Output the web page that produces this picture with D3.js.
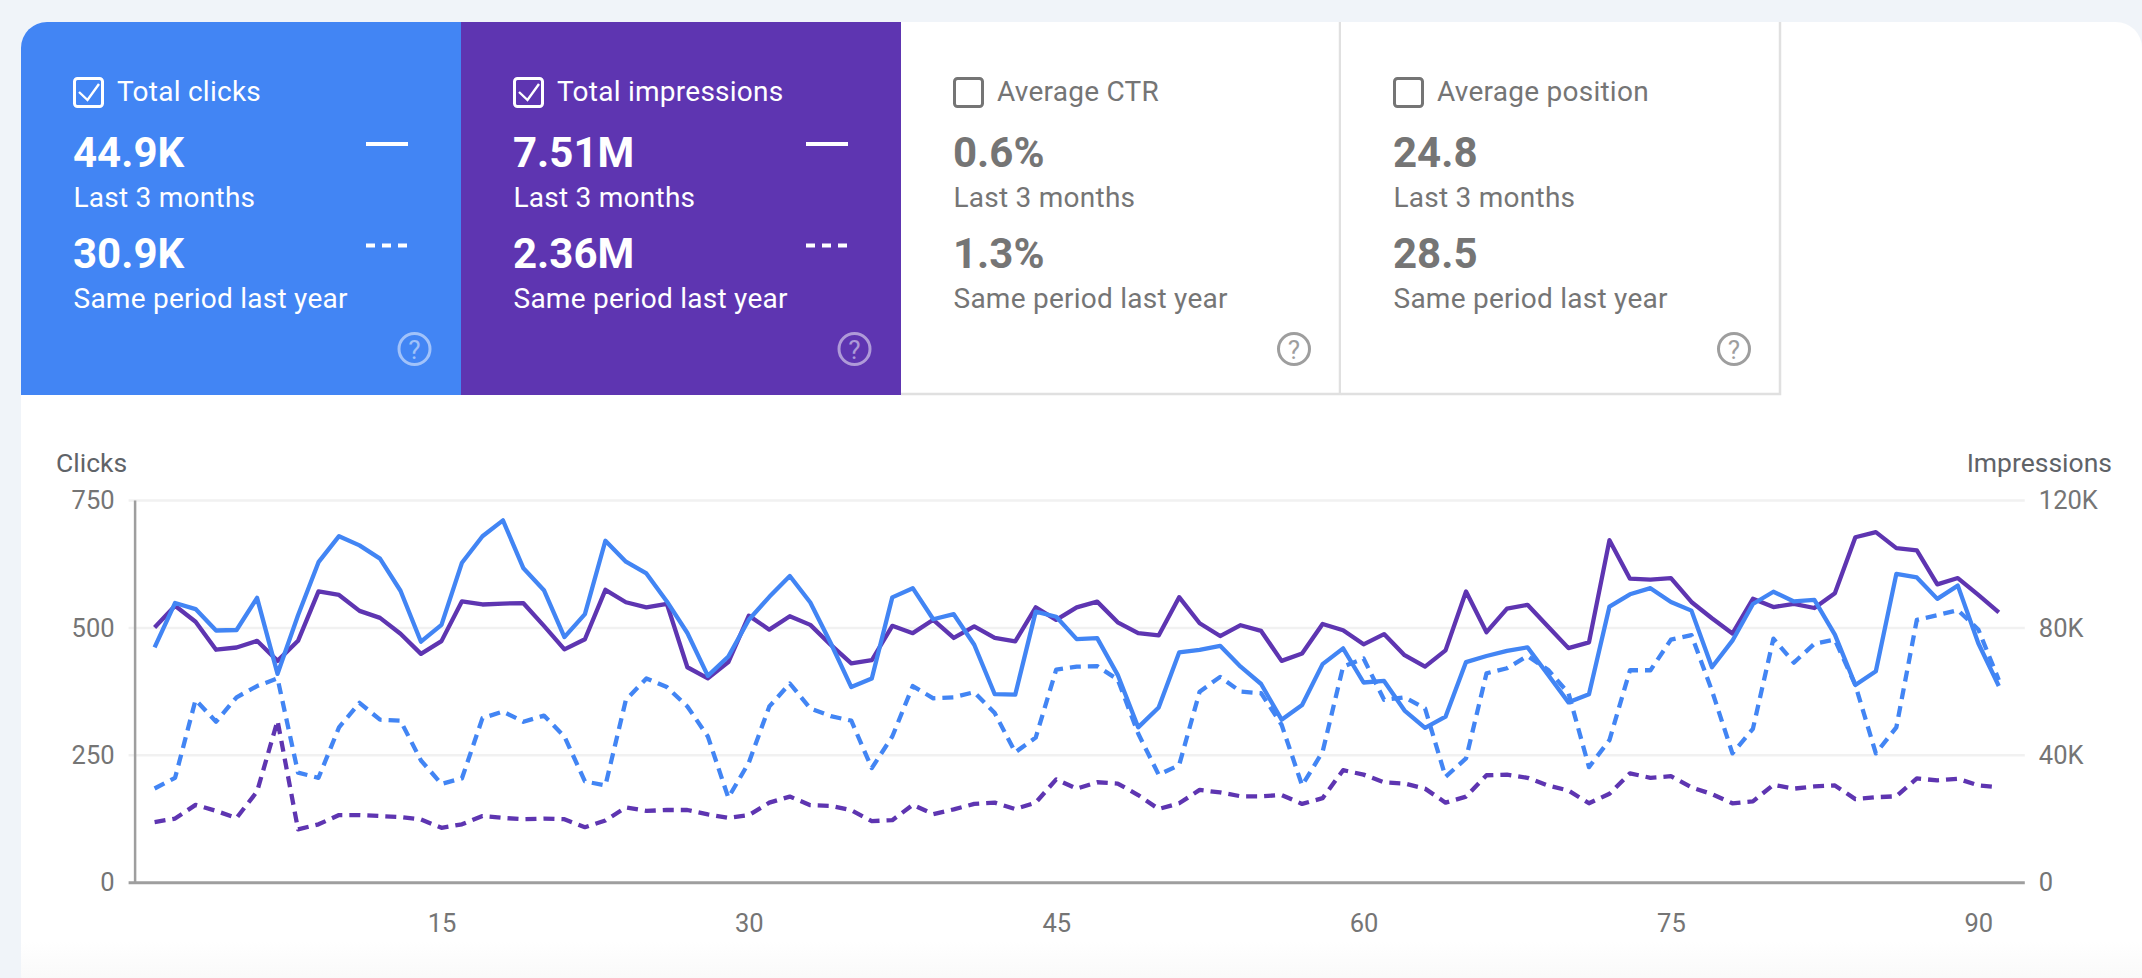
<!DOCTYPE html>
<html lang="en">
<head>
<meta charset="UTF-8">
<title>Search performance</title>
<script src="https://d3js.org/d3.v7.min.js"></script>
<style>
  body { margin: 0; background: #f0f4f9; }
  svg { display: block; }
  text { font-family: Roboto, sans-serif; }
  .tick text { font-family: Roboto, sans-serif; }
</style>
</head>
<body>
<script>
// scorecards
const cardTitles = ['Total clicks', 'Total impressions', 'Average CTR', 'Average position'];
const cardCurrent = ['44.9K', '7.51M', '0.6%', '24.8'];
const cardPrevious = ['30.9K', '2.36M', '1.3%', '28.5'];
const cardFills = ['#4285f4', '#5e35b1', '#ffffff', '#ffffff'];
const cardChecked = [true, true, false, false];

// chart, day 1 to 91
const clicksNow = [461,548,536,494,495,558,409,524,628,679,661,635,572,472,505,627,679,710,616,573,
  481,526,670,629,606,551,489,405,443,515,560,601,549,469,383,400,559,577,516,526,466,369,368,531,521,477,479,
  407,304,343,451,456,464,423,389,319,348,428,459,392,395,337,303,325,432,444,454,461,407,353,369,541,565,
  577,550,533,422,474,546,570,551,554,486,387,414,605,598,556,582,469,385];
const clicksLast = [184,205,358,315,363,385,400,215,205,304,352,319,317,239,193,204,322,335,315,327,
  286,198,190,358,400,383,345,286,166,235,345,390,341,326,317,224,286,385,361,363,373,332,255,284,417,423,424,
  398,292,211,230,374,403,374,371,309,190,256,423,439,358,363,341,207,243,410,420,444,417,371,226,279,416,
  416,476,485,376,253,301,478,431,468,476,387,253,304,515,524,534,496,397];
// impressions in thousands
const imprNow = [80,86.8,81.8,73,73.7,75.8,69.5,75.8,91.3,90.2,85.2,83,78,71.7,75.7,88.2,87.2,87.5,87.6,80.5,
  73.1,76.3,91.8,87.9,86.3,87.4,67.5,64,69.1,83.7,79.3,83.5,80.8,74.5,68.7,69.7,80.5,78.2,82.4,76.7,80.3,76.7,75.6,86.3,82.4,86.3,88.1,
  81.6,78.2,77.5,89.5,81.3,77.3,80.7,78.9,69.5,71.8,81.1,79.1,74.7,77.9,71.3,67.7,72.8,91.3,78.5,85.9,87.1,80.3,73.5,75.3,107.4,95.3,
  95,95.5,88,82.9,78.1,89,86.4,87.4,86.1,90.7,108.3,109.9,104.9,104.2,93.5,95.5,90.2,84.7];
const imprLast = [18.9,20,24.3,22.4,20.2,28.5,50.7,16.6,18.2,21.1,21.1,20.8,20.5,19.7,17.1,18.2,20.8,20.2,19.8,20,
  19.8,17.3,19.4,23.5,22.4,22.7,22.7,21.3,20.2,21.1,25,26.9,24.2,24,22.6,19.2,19.5,24.3,21.4,22.9,24.6,25,23,25,32.3,29.4,31.4,
  31,27.4,23,24.8,29,28.2,27,27,27.4,24.6,26.4,35.2,33.8,31.4,31,29.4,25,26.9,33.6,33.8,32.8,30.4,28.8,24.8,27.8,34.2,
  32.8,33.3,29.8,27.7,24.8,25.4,30.6,29.4,30.1,30.4,26.1,26.7,27,32.6,32,32.5,30.4,29.8];
const days = d3.range(1, 92);
const dayTicks = [15, 30, 45, 60, 75, 90];
const clickTicks = [0, 250, 500, 750];
const imprTicks = [0, 40, 80, 120];

const width = 2142, height = 978;
const blue = '#4285f4', purple = '#5e35b1';

const svg = d3.select('body').append('svg').attr('width', width).attr('height', height);
const defs = svg.append('defs');

// white panel, fades out a bit at the bottom
const fade = defs.append('linearGradient').attr('id', 'fade').attr('x1', 0).attr('x2', 0).attr('y1', 0).attr('y2', 1);
fade.append('stop').attr('offset', '0.94').attr('stop-color', '#ffffff');
fade.append('stop').attr('offset', '1').attr('stop-color', '#f6f6f6');
defs.append('clipPath').attr('id', 'panelClip').append('rect')
  .attr('x', 21).attr('y', 22).attr('width', width - 21).attr('height', height).attr('rx', 26);

svg.append('rect').attr('x', 21).attr('y', 22).attr('width', width - 21).attr('height', height)
  .attr('rx', 26).attr('fill', 'url(#fade)');

// scorecards
const cardW = 440, cardY = 22, cardH = 373;
const cards = svg.append('g').attr('clip-path', 'url(#panelClip)')
  .selectAll('g').data(cardTitles).join('g')
  .attr('transform', (d, i) => `translate(${21 + i * cardW},${cardY})`);

cards.append('rect').attr('width', cardW).attr('height', cardH).attr('fill', (d, i) => cardFills[i]);
cards.filter((d, i) => !cardChecked[i]).append('path')
  .attr('d', `M${cardW - 1},0V${cardH - 1}H0`)
  .attr('fill', 'none').attr('stroke', '#e0e0e0').attr('stroke-width', 2.5);

const ink = (d, i) => cardChecked[i] ? '#ffffff' : '#757575';

cards.append('rect').attr('x', 53.5).attr('y', 56.5).attr('width', 28).attr('height', 28).attr('rx', 3)
  .attr('fill', 'none').attr('stroke', ink).attr('stroke-width', 3);
cards.filter((d, i) => cardChecked[i]).append('path')
  .attr('d', 'M58,70L66.5,78L78,62').attr('fill', 'none').attr('stroke', '#ffffff').attr('stroke-width', 2.4);

cards.append('text').attr('x', 96).attr('y', 79).attr('font-size', 28).attr('letter-spacing', 0.25)
  .attr('fill', ink).text(d => d);

const bigText = (sel, y, values) => sel.append('text').attr('x', 52).attr('y', y)
  .attr('font-size', 42).attr('font-weight', 700).attr('fill', ink).text((d, i) => values[i]);
const smallText = (sel, y, label) => sel.append('text').attr('x', 52.5).attr('y', y)
  .attr('font-size', 28).attr('letter-spacing', 0.25).attr('fill', ink).text(label);

bigText(cards, 145, cardCurrent);
smallText(cards, 185, 'Last 3 months');
bigText(cards, 246, cardPrevious);
smallText(cards, 285.5, 'Same period last year');

const picked = cards.filter((d, i) => cardChecked[i]);
picked.append('line').attr('x1', 345).attr('x2', 387).attr('y1', 122).attr('y2', 122)
  .attr('stroke', '#fff').attr('stroke-width', 4);
picked.append('line').attr('x1', 345).attr('x2', 386).attr('y1', 223.5).attr('y2', 223.5)
  .attr('stroke', '#fff').attr('stroke-width', 4).attr('stroke-dasharray', '9 7');

const helpX = (d, i) => i < 2 ? 393.5 : 393;
cards.append('circle').attr('cx', helpX).attr('cy', 327).attr('r', 15.5).attr('fill', 'none')
  .attr('stroke', (d, i) => cardChecked[i] ? 'rgba(255,255,255,0.5)' : '#9e9e9e').attr('stroke-width', 3);
cards.append('text').attr('x', helpX).attr('y', 336.5).attr('text-anchor', 'middle').attr('font-size', 26)
  .attr('fill', (d, i) => cardChecked[i] ? 'rgba(255,255,255,0.5)' : '#9e9e9e').text('?');

// chart
const plotLeft = 134.6, plotRight = 2024.8, plotTop = 500, plotBottom = 882.3;
const x = d3.scaleLinear().domain([1, 91]).range([154.6, 1998.8]);
const yClicks = d3.scaleLinear().domain([0, 750]).range([plotBottom, plotTop]);
const yImpr = d3.scaleLinear().domain([0, 120]).range([plotBottom, plotTop]);

const grid = svg.append('g').attr('transform', `translate(${plotLeft - 6},0)`)
  .call(d3.axisRight(yClicks).tickValues(clickTicks).tickSize(plotRight - plotLeft + 6).tickFormat(''));
grid.select('.domain').remove();
grid.selectAll('line').attr('stroke', d => d === 0 ? '#9e9e9e' : '#f1f1f1').attr('stroke-width', d => d === 0 ? 3 : 2.5);

const leftAxis = svg.append('g').attr('transform', `translate(${plotLeft},0)`)
  .call(d3.axisLeft(yClicks).tickValues(clickTicks).tickSize(0).tickPadding(20));
leftAxis.select('.domain').attr('stroke', '#9e9e9e').attr('stroke-width', 2.5);

const rightAxis = svg.append('g').attr('transform', `translate(${plotRight},0)`)
  .call(d3.axisRight(yImpr).tickValues(imprTicks).tickSize(0).tickPadding(14)
    .tickFormat(d => d === 0 ? '0' : d + 'K'));
rightAxis.select('.domain').remove();

const bottomAxis = svg.append('g').attr('transform', `translate(0,${plotBottom})`)
  .call(d3.axisBottom(x).tickValues(dayTicks).tickSize(0).tickPadding(32));
bottomAxis.select('.domain').remove();

svg.selectAll('.tick text').attr('font-size', 25.5).attr('fill', '#757575');
leftAxis.selectAll('.tick text').attr('dy', '0.34em');
rightAxis.selectAll('.tick text').attr('dy', '0.34em');

svg.append('text').attr('x', 56).attr('y', 472).attr('font-size', 26.5).attr('fill', '#5f6368').text('Clicks');
svg.append('text').attr('x', 2112).attr('y', 472).attr('font-size', 26.5).attr('fill', '#5f6368')
  .attr('text-anchor', 'end').text('Impressions');

const lineClicks = d3.line().x((d, i) => x(days[i])).y(d => yClicks(d));
const lineImpr = d3.line().x((d, i) => x(days[i])).y(d => yImpr(d));

const drawLine = (values, gen, color, dashed) => svg.append('path').datum(values)
  .attr('d', gen).attr('fill', 'none').attr('stroke', color).attr('stroke-width', 4.3)
  .attr('stroke-linejoin', 'round').attr('stroke-dasharray', dashed ? '11 7' : null);

drawLine(imprLast, lineImpr, purple, true);
drawLine(clicksLast, lineClicks, blue, true);
drawLine(imprNow, lineImpr, purple, false);
drawLine(clicksNow, lineClicks, blue, false);
</script>
</body>
</html>
